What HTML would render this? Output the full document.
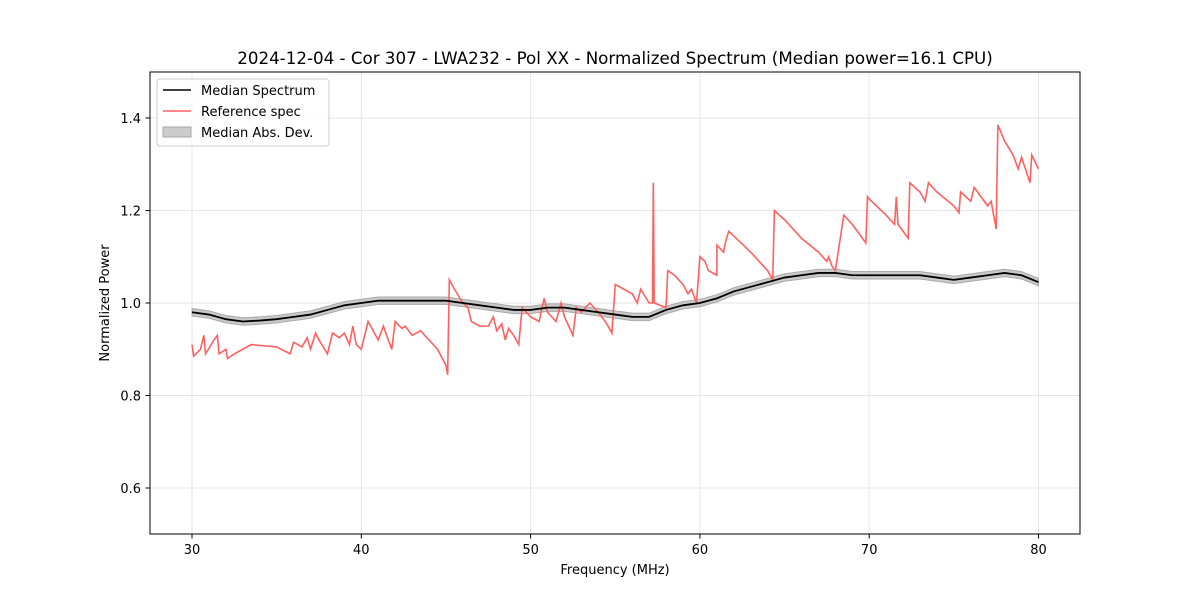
<!DOCTYPE html>
<html><head><meta charset="utf-8"><style>
body{margin:0;background:#fff;font-family:"Liberation Sans","DejaVu Sans",sans-serif}
svg text{font-family:"DejaVu Sans","Liberation Sans",sans-serif}
</style></head><body>
<svg id="c" width="1200" height="600" viewBox="0 0 1200 600">
<rect width="1200" height="600" fill="#fff"/>
<g id="grid"></g>
<g id="band"></g>
<g id="lines"></g>
<rect x="150" y="72" width="930" height="462" fill="none" stroke="#000" stroke-width="1"/>
<g id="ticks"></g>
<text x="615" y="64" font-size="16.7" text-anchor="middle">2024-12-04 - Cor 307 - LWA232 - Pol XX - Normalized Spectrum (Median power=16.1 CPU)</text>
<text x="615" y="574" font-size="13" text-anchor="middle">Frequency (MHz)</text>
<text transform="translate(109,303) rotate(-90)" font-size="13" text-anchor="middle">Normalized Power</text>
<g>
<rect x="157" y="79" width="172" height="67" rx="3" fill="#fff" fill-opacity="0.8" stroke="#ccc"/>
<g><line x1="163" y1="90" x2="191" y2="90" stroke="#000" stroke-width="1.5"/><text x="201" y="95" font-size="13">Median Spectrum</text></g>
<g><line x1="163" y1="111" x2="191" y2="111" stroke="#ff6060" stroke-width="1.5"/><text x="201" y="116" font-size="13">Reference spec</text></g>
<g><rect x="163" y="127" width="28" height="10" fill="#ccc" stroke="#aaa"/><text x="201" y="137" font-size="13">Median Abs. Dev.</text></g>
</g>
</svg>
<script>
const xTicks=[30,40,50,60,70,80];
const yTicks=[0.6,0.8,1.0,1.2,1.4];
const medFreq=[30,31,32,33,34,35,36,37,38,39,40,41,42,43,44,45,46,47,48,49,50,51,52,53,54,55,56,57,58,59,60,61,62,63,64,65,66,67,68,69,70,71,72,73,74,75,76,77,78,79,80];
const medVal=[0.98,0.975,0.965,0.96,0.962,0.965,0.97,0.975,0.985,0.995,1.0,1.005,1.005,1.005,1.005,1.005,1.0,0.995,0.99,0.985,0.985,0.99,0.99,0.985,0.98,0.975,0.97,0.97,0.985,0.995,1.0,1.01,1.025,1.035,1.045,1.055,1.06,1.065,1.065,1.06,1.06,1.06,1.06,1.06,1.055,1.05,1.055,1.06,1.065,1.06,1.045];
const madVal=0.008;
const refFreq=[30,30.1,30.5,30.7,30.8,31.3,31.5,31.6,32,32.1,32.5,33,33.5,35,35.8,36,36.5,36.8,37,37.3,37.5,38,38.3,38.7,39,39.3,39.5,39.7,40,40.4,40.7,41,41.3,41.8,42,42.4,42.6,43,43.5,44,44.5,45,45.1,45.2,45.5,46,46.3,46.5,47,47.5,47.8,48,48.3,48.5,48.7,49,49.3,49.5,50,50.5,50.8,51,51.5,51.8,52,52.5,52.7,53,53.5,54,54.5,54.8,55,55.5,56,56.3,56.5,57,57.2,57.25,57.3,58,58.1,58.5,59,59.3,59.5,59.8,60,60.3,60.5,61,61.01,61.4,61.5,61.7,62,63,64,64.3,64.4,65,66,67,67.5,67.6,67.8,68,68.5,69,69.8,69.9,70,71,71.5,71.6,71.7,72.3,72.4,73,73.3,73.5,74,75,75.3,75.4,76,76.2,77,77.2,77.5,77.6,78,78.5,78.8,79,79.5,79.6,80];
const refVal=[0.91,0.885,0.9,0.93,0.89,0.92,0.93,0.89,0.9,0.88,0.89,0.9,0.91,0.905,0.89,0.915,0.905,0.925,0.9,0.935,0.92,0.89,0.935,0.925,0.935,0.91,0.95,0.91,0.9,0.96,0.94,0.92,0.95,0.9,0.96,0.945,0.95,0.93,0.94,0.92,0.9,0.865,0.845,1.05,1.03,1.0,0.99,0.96,0.95,0.95,0.97,0.94,0.955,0.92,0.945,0.93,0.91,0.99,0.97,0.96,1.01,0.98,0.96,1.0,0.97,0.93,0.99,0.98,1.0,0.98,0.955,0.935,1.04,1.03,1.02,1.0,1.03,1.0,1.0,1.26,1.0,0.99,1.07,1.06,1.04,1.02,1.03,1.0,1.1,1.09,1.07,1.06,1.125,1.11,1.13,1.155,1.145,1.11,1.07,1.05,1.2,1.18,1.14,1.11,1.09,1.1,1.08,1.07,1.19,1.17,1.13,1.23,1.225,1.19,1.17,1.23,1.17,1.14,1.26,1.24,1.22,1.26,1.24,1.21,1.195,1.24,1.22,1.25,1.21,1.22,1.16,1.385,1.35,1.32,1.29,1.315,1.26,1.32,1.29];
const NS='http://www.w3.org/2000/svg';
const X=f=>192+(f-30)*16.93;
const Y=v=>303-(v-1.0)*462.5;
function mk(tag,attrs,parent){const e=document.createElementNS(NS,tag);for(const k in attrs)e.setAttribute(k,attrs[k]);document.getElementById(parent).appendChild(e);return e;}
xTicks.forEach(t=>{
 const g=mk('line',{x1:X(t),x2:X(t),y1:72,y2:534,stroke:'#e5e5e5','stroke-width':1},'grid');
 
 
 const tk=mk('line',{x1:X(t),x2:X(t),y1:534,y2:538.5,stroke:'#000'},'ticks');
 
 
 const tx=mk('text',{x:X(t),y:554,'font-size':13,'text-anchor':'middle'},'ticks');tx.textContent=t;
 
 
});
yTicks.forEach(t=>{
 const g=mk('line',{x1:150,x2:1080,y1:Y(t),y2:Y(t),stroke:'#e5e5e5','stroke-width':1},'grid');
 
 
 const tk=mk('line',{x1:145.5,x2:150,y1:Y(t),y2:Y(t),stroke:'#000'},'ticks');
 
 
 const tx=mk('text',{x:141,y:Y(t)+5,'font-size':13,'text-anchor':'end'},'ticks');tx.textContent=t.toFixed(1);
 
 
});
let up=medFreq.map((f,i)=>X(f)+','+Y(medVal[i]+madVal));
let dn=medFreq.map((f,i)=>X(f)+','+Y(medVal[i]-madVal)).reverse();
const band=mk('polygon',{points:up.concat(dn).join(' '),fill:'#bbb','fill-opacity':0.8,stroke:'#aaa'},'band');


const ref=mk('polyline',{points:refFreq.map((f,i)=>X(f)+','+Y(refVal[i])).join(' '),fill:'none',stroke:'#ff6060','stroke-width':1.6},'lines');


const med=mk('polyline',{points:medFreq.map((f,i)=>X(f)+','+Y(medVal[i])).join(' '),fill:'none',stroke:'#000','stroke-width':1.8},'lines');


</script>
</body></html>
